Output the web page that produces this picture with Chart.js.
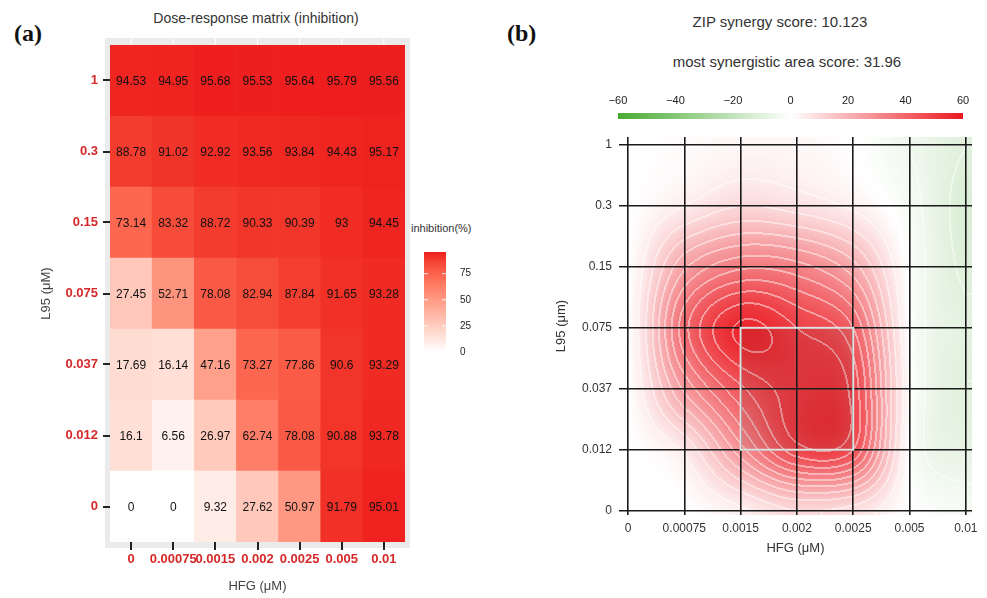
<!DOCTYPE html>
<html lang="en">
<head>
<meta charset="utf-8">
<script src="https://cdn.jsdelivr.net/npm/chart.js@4/dist/chart.umd.min.js"></script>
<style>
  body { margin: 0; background: #fff; font-family: "Liberation Sans", Arial, sans-serif; }
  #page { position: relative; width: 987px; height: 598px; overflow: hidden; }
  canvas, .txt { position: absolute; }
  .panel { font-family: "Liberation Serif", "Times New Roman", serif; font-weight: bold; font-size: 24px; line-height: 30px; color: #111; }
  .title { font-size: 15px; line-height: 18px; color: #333; text-align: center; white-space: nowrap; }
</style>
</head>
<body>
<div id="page">
  <div class="txt panel" style="left:14px; top:18px;">(a)</div>
  <div class="txt panel" style="left:507px; top:18px;">(b)</div>
  <div class="txt title" style="left:0; width:512px; top:9px; font-size:14px;">Dose-response matrix (inhibition)</div>
  <div class="txt title" style="left:580px; width:400px; top:13px;">ZIP synergy score: 10.123</div>
  <div class="txt title" style="left:587px; width:400px; top:53px;">most synergistic area score: 31.96</div>
  <div class="txt" style="left:411px; top:222px; font-size:11px; color:#333;">inhibition(%)</div>

  <canvas id="heat" width="490" height="598" style="left:0; top:0;"></canvas>
  <canvas id="heatLegend" width="60" height="125" style="left:415px; top:240px;"></canvas>
  <canvas id="synergy" width="497" height="598" style="left:490px; top:0;"></canvas>
  <canvas id="synLegend" width="390" height="46" style="left:600px; top:80px;"></canvas>
</div>

<script>
    // doses, bottom row first for L95
    const hfgDoses = ["0", "0.00075", "0.0015", "0.002", "0.0025", "0.005", "0.01"];
    const l95Doses = ["0", "0.012", "0.037", "0.075", "0.15", "0.3", "1"];

    // inhibition (%) rows follow l95Doses
    const inhib0     = [0, 0, 9.32, 27.62, 50.97, 91.79, 95.01];
    const inhib0012  = [16.1, 6.56, 26.97, 62.74, 78.08, 90.88, 93.78];
    const inhib0037  = [17.69, 16.14, 47.16, 73.27, 77.86, 90.6, 93.29];
    const inhib0075  = [27.45, 52.71, 78.08, 82.94, 87.84, 91.65, 93.28];
    const inhib015   = [73.14, 83.32, 88.72, 90.33, 90.39, 93, 94.45];
    const inhib03    = [88.78, 91.02, 92.92, 93.56, 93.84, 94.43, 95.17];
    const inhib1     = [94.53, 94.95, 95.68, 95.53, 95.64, 95.79, 95.56];
    const inhibition = [inhib0, inhib0012, inhib0037, inhib0075, inhib015, inhib03, inhib1];
    const inhibTicks = [0, 25, 50, 75];

    // ZIP synergy surface, rows follow l95Doses
    const syn0     = [0, 0, 4, 10, 8, 0, -3];
    const syn0012  = [0, 6, 28, 48, 45, 0, -8];
    const syn0037  = [0, 26, 44, 52, 48, 1, -10];
    const syn0075  = [0, 38, 56, 50, 40, 0, -9];
    const syn015   = [0, 24, 34, 32, 22, -1, -11];
    const syn03    = [0, 5, 10, 8, 4, -3, -12];
    const syn1     = [0, 1, 2, 2, 0, -5, -10];
    const synergy = [syn0, syn0012, syn0037, syn0075, syn015, syn03, syn1];
    const synRange = [-60, 60];
    const bestAreaX = ["0.0015", "0.0025"];
    const bestAreaY = ["0.012", "0.075"];

    Chart.defaults.font.family = '"Liberation Sans", Arial, sans-serif';
    Chart.defaults.animation = false;
    Chart.defaults.plugins.legend.display = false;
    Chart.defaults.plugins.tooltip.enabled = false;

    // ---- colours ----
    function toLab(c) {
        const f = v => { v /= 255; return v <= 0.04045 ? v / 12.92 : Math.pow((v + 0.055) / 1.055, 2.4); };
        const R = f(c[0]), G = f(c[1]), B = f(c[2]);
        const X = (R * 0.4124 + G * 0.3576 + B * 0.1805) / 0.95047;
        const Y = R * 0.2126 + G * 0.7152 + B * 0.0722;
        const Z = (R * 0.0193 + G * 0.1192 + B * 0.9505) / 1.08883;
        const h = t => t > 0.008856 ? Math.cbrt(t) : 7.787 * t + 16 / 116;
        return [116 * h(Y) - 16, 500 * (h(X) - h(Y)), 200 * (h(Y) - h(Z))];
    }
    function fromLab(l) {
        const fy = (l[0] + 16) / 116, fx = l[1] / 500 + fy, fz = fy - l[2] / 200;
        const inv = t => t * t * t > 0.008856 ? t * t * t : (t - 16 / 116) / 7.787;
        const X = inv(fx) * 0.95047, Y = inv(fy), Z = inv(fz) * 1.08883;
        const g = v => { v = v <= 0.0031308 ? 12.92 * v : 1.055 * Math.pow(v, 1 / 2.4) - 0.055; return Math.round(Math.max(0, Math.min(1, v)) * 255); };
        return [g(3.2406 * X - 1.5372 * Y - 0.4986 * Z), g(-0.9689 * X + 1.8758 * Y + 0.0415 * Z), g(0.0557 * X - 0.2040 * Y + 1.0570 * Z)];
    }
    const labLow = toLab([255, 255, 255]);
    const labHigh = toLab([238, 30, 30]);
    const inhibMax = Math.max(...inhibition.flat());
    function heatColor(v) {
        const t = Math.max(0, Math.min(1, v / inhibMax));
        const c = fromLab(labLow.map((a, k) => a + (labHigh[k] - a) * t));
        return `rgb(${c[0]},${c[1]},${c[2]})`;
    }

    const synRed = [234, 24, 32], synGreen = [72, 170, 50];
    function synColor(v) {
        const t = Math.min(1, Math.abs(v) / synRange[1]);
        const end = v >= 0 ? synRed : synGreen;
        return end.map(e => 255 + (e - 255) * t);
    }

    // ---- (a) heat map ----
    const heatPanel = {
        id: "heatPanel",
        beforeDraw(chart) {
            const {ctx, chartArea: a, scales} = chart;
            ctx.save();
            ctx.fillStyle = "rgb(235,235,235)";
            ctx.fillRect(a.left - 5, a.top - 7, a.width + 10, a.height + 13);
            ctx.strokeStyle = "#fff";
            ctx.lineWidth = 1;
            scales.x.ticks.forEach((t, i) => {
                const x = scales.x.getPixelForTick(i);
                ctx.beginPath(); ctx.moveTo(x, a.top - 7); ctx.lineTo(x, a.bottom + 6); ctx.stroke();
            });
            ctx.restore();
        },
        afterDatasetsDraw(chart) {
            const {ctx} = chart;
            ctx.save();
            ctx.font = '12px "Liberation Sans", Arial, sans-serif';
            ctx.fillStyle = "#111";
            ctx.textAlign = "center";
            ctx.textBaseline = "middle";
            chart.data.datasets.forEach((ds, i) => {
                chart.getDatasetMeta(i).data.forEach((bar, j) => {
                    const p = bar.getProps(["x", "y", "base"]);
                    ctx.fillText(String(inhibition[i][j]), p.x, (p.y + p.base) / 2 + 1);
                });
            });
            ctx.restore();
        }
    };

    new Chart("heat", {
        type: "bar",
        data: {
            labels: hfgDoses,
            datasets: l95Doses.map((d, i) => ({
                label: d,
                data: hfgDoses.map(() => 1),
                backgroundColor: inhibition[i].map(heatColor),
                borderWidth: 0,
                categoryPercentage: 1,
                barPercentage: 1
            }))
        },
        options: {
            responsive: false,
            layout: {padding: {left: 35, top: 45, right: 85, bottom: 0}},
            scales: {
                x: {
                    stacked: true,
                    grid: {display: true, offset: false, drawOnChartArea: false, tickLength: 8, color: "#222", lineWidth: 2},
                    border: {display: false},
                    ticks: {color: "rgb(214,40,40)", font: {size: 13, weight: "bold"}, padding: 2, maxRotation: 0, autoSkip: false},
                    title: {display: true, text: "HFG (μM)", color: "#444", font: {size: 13}, padding: 4},
                    afterFit: axis => { axis.height = 56; }
                },
                y: {
                    stacked: true,
                    min: 0,
                    max: l95Doses.length,
                    afterBuildTicks: axis => { axis.ticks = l95Doses.map((d, i) => ({value: i + 0.5})); },
                    grid: {display: true, drawOnChartArea: false, tickLength: 7, color: "#222", lineWidth: 2},
                    border: {display: false},
                    ticks: {color: "rgb(214,40,40)", font: {size: 13, weight: "bold"}, padding: 5, autoSkip: false,
                        callback: (v, i) => l95Doses[i]},
                    title: {display: true, text: "L95 (μM)", color: "#444", font: {size: 13}, padding: 4},
                    afterFit: axis => { axis.width = 75; }
                }
            }
        },
        plugins: [heatPanel]
    });

    // colour bar of the heat map
    const legendMarks = {
        id: "legendMarks",
        afterDatasetsDraw(chart) {
            const {ctx, chartArea: a, scales} = chart;
            ctx.save();
            ctx.strokeStyle = "rgba(255,255,255,0.9)";
            ctx.lineWidth = 1;
            inhibTicks.forEach(v => {
                const y = scales.y.getPixelForValue(v);
                ctx.beginPath();
                ctx.moveTo(a.left, y); ctx.lineTo(a.left + 4, y);
                ctx.moveTo(a.right - 4, y); ctx.lineTo(a.right, y);
                ctx.stroke();
            });
            ctx.restore();
        }
    };

    new Chart("heatLegend", {
        type: "bar",
        data: {
            labels: ["inhibition"],
            datasets: [{
                data: [[0, inhibMax]],
                borderWidth: 0,
                categoryPercentage: 1,
                barPercentage: 1,
                backgroundColor: c => {
                    const {chart} = c;
                    if (!chart.chartArea) return heatColor(inhibMax);
                    const y0 = chart.scales.y.getPixelForValue(0), y1 = chart.scales.y.getPixelForValue(inhibMax);
                    const g = chart.ctx.createLinearGradient(0, y0, 0, y1);
                    for (let k = 0; k <= 10; k++) g.addColorStop(k / 10, heatColor(inhibMax * k / 10));
                    return g;
                }
            }]
        },
        options: {
            responsive: false,
            layout: {padding: {left: 9, top: 10, bottom: 13, right: 0}},
            scales: {
                x: {display: false},
                y: {
                    position: "right",
                    min: 0,
                    max: inhibMax,
                    grid: {display: false},
                    border: {display: false},
                    ticks: {stepSize: 25, includeBounds: false, color: "#222", font: {size: 10}, padding: 6},
                    afterFit: axis => { axis.width = 29; }
                }
            }
        },
        plugins: [legendMarks]
    });

    // ---- (b) synergy surface ----
    function catmull(p0, p1, p2, p3, t) {
        return p1 + 0.5 * t * (p2 - p0 + t * (2 * p0 - 5 * p1 + 4 * p2 - p3 + t * (3 * (p1 - p2) + p3 - p0)));
    }
    function surfaceAt(xv, yv) {
        const nx = hfgDoses.length, ny = l95Doses.length;
        xv = Math.max(0, Math.min(nx - 1, xv));
        yv = Math.max(0, Math.min(ny - 1, yv));
        const i = Math.min(nx - 2, Math.floor(xv)), j = Math.min(ny - 2, Math.floor(yv));
        const tx = xv - i, ty = yv - j;
        const get = (r, c) => synergy[Math.max(0, Math.min(ny - 1, r))][Math.max(0, Math.min(nx - 1, c))];
        const rows = [];
        for (let r = j - 1; r <= j + 2; r++) {
            rows.push(catmull(get(r, i - 1), get(r, i), get(r, i + 1), get(r, i + 2), tx));
        }
        return catmull(rows[0], rows[1], rows[2], rows[3], ty);
    }

    const contourStep = 5;
    const synSurface = {
        id: "synSurface",
        beforeDraw(chart) {
            const {ctx, chartArea: a, scales} = chart;
            const w = Math.round(a.width), h = Math.round(a.height);
            const x0 = Math.round(a.left), y0 = Math.round(a.top);
            const vals = new Float32Array(w * h);
            for (let py = 0; py < h; py++) {
                const yv = scales.y.getValueForPixel(y0 + py + 0.5);
                for (let px = 0; px < w; px++) {
                    vals[py * w + px] = surfaceAt(scales.x.getValueForPixel(x0 + px + 0.5), yv);
                }
            }
            const lev = v => Math.floor(v / contourStep);
            const img = ctx.createImageData(w, h);
            for (let py = 0; py < h; py++) {
                for (let px = 0; px < w; px++) {
                    const k = py * w + px;
                    const v = vals[k], l = lev(v);
                    let c = synColor(v);
                    const edge = (px < w - 1 && lev(vals[k + 1]) !== l) ||
                                 (px > 0 && lev(vals[k - 1]) !== l) ||
                                 (py < h - 1 && lev(vals[k + w]) !== l) ||
                                 (py > 0 && lev(vals[k - w]) !== l);
                    if (edge && Math.abs(v) > 3) c = c.map(e => e + (255 - e) * 0.45);
                    img.data[k * 4] = c[0];
                    img.data[k * 4 + 1] = c[1];
                    img.data[k * 4 + 2] = c[2];
                    img.data[k * 4 + 3] = 255;
                }
            }
            ctx.putImageData(img, x0, y0);
        },
        afterDatasetsDraw(chart) {
            const {ctx, scales} = chart;
            const xa = scales.x.getPixelForValue(hfgDoses.indexOf(bestAreaX[0]));
            const xb = scales.x.getPixelForValue(hfgDoses.indexOf(bestAreaX[1]));
            const ya = scales.y.getPixelForValue(l95Doses.indexOf(bestAreaY[1]));
            const yb = scales.y.getPixelForValue(l95Doses.indexOf(bestAreaY[0]));
            ctx.save();
            ctx.fillStyle = "rgba(60,60,60,0.09)";
            ctx.fillRect(xa, ya, xb - xa, yb - ya);
            ctx.strokeStyle = "rgb(225,225,225)";
            ctx.lineWidth = 2;
            ctx.strokeRect(xa, ya, xb - xa, yb - ya);
            ctx.restore();
        }
    };

    new Chart("synergy", {
        type: "scatter",
        data: {
            datasets: [{
                data: synergy.flatMap((row, j) => row.map((v, i) => ({x: i, y: j}))),
                pointRadius: 0
            }]
        },
        options: {
            responsive: false,
            layout: {padding: {left: 60, top: 137, right: 15, bottom: 38}},
            scales: {
                x: {
                    type: "linear",
                    min: -0.16,
                    max: hfgDoses.length - 1 + 0.11,
                    afterBuildTicks: axis => { axis.ticks = hfgDoses.map((d, i) => ({value: i})); },
                    grid: {color: "#1a1a1a", lineWidth: 1.6, drawTicks: false},
                    border: {display: false},
                    ticks: {color: "#333", font: {size: 12}, padding: 6, autoSkip: false, maxRotation: 0,
                        callback: (v, i) => hfgDoses[i]},
                    title: {display: true, text: "HFG (μM)", color: "#333", font: {size: 13}, padding: 4},
                    afterFit: axis => { axis.height = 45; }
                },
                y: {
                    type: "linear",
                    min: -0.07,
                    max: l95Doses.length - 1 + 0.13,
                    afterBuildTicks: axis => { axis.ticks = l95Doses.map((d, i) => ({value: i})); },
                    grid: {color: "#1a1a1a", lineWidth: 1.6, drawTicks: false},
                    border: {display: false},
                    ticks: {color: "#333", font: {size: 12}, padding: 7, autoSkip: false,
                        callback: (v, i) => l95Doses[i]},
                    title: {display: true, text: "L95 (μm)", color: "#333", font: {size: 13}, padding: 4},
                    afterFit: axis => { axis.width = 69; }
                }
            }
        },
        plugins: [synSurface]
    });

    // colour bar of the synergy surface
    new Chart("synLegend", {
        type: "bar",
        data: {
            labels: ["synergy"],
            datasets: [{
                data: [synRange],
                borderWidth: 0,
                categoryPercentage: 1,
                barPercentage: 1,
                backgroundColor: c => {
                    const {chart} = c;
                    if (!chart.chartArea) return "#fff";
                    const xs = chart.scales.x;
                    const g = chart.ctx.createLinearGradient(xs.getPixelForValue(synRange[0]), 0, xs.getPixelForValue(synRange[1]), 0);
                    for (let k = 0; k <= 12; k++) {
                        const v = synRange[0] + (synRange[1] - synRange[0]) * k / 12;
                        const col = synColor(v);
                        g.addColorStop(k / 12, `rgb(${col.map(Math.round).join(",")})`);
                    }
                    return g;
                }
            }]
        },
        options: {
            responsive: false,
            indexAxis: "y",
            layout: {padding: {left: 18, top: 12, right: 27, bottom: 7}},
            scales: {
                x: {
                    position: "top",
                    min: synRange[0],
                    max: synRange[1],
                    grid: {display: false, drawTicks: false},
                    border: {display: false},
                    ticks: {stepSize: 20, color: "#222", font: {size: 11}, padding: 5, maxRotation: 0,
                        callback: v => String(v).replace("-", "\u2212")},
                    afterFit: axis => { axis.height = 21; }
                },
                y: {display: false}
            }
        }
    });
</script>
</body>
</html>
